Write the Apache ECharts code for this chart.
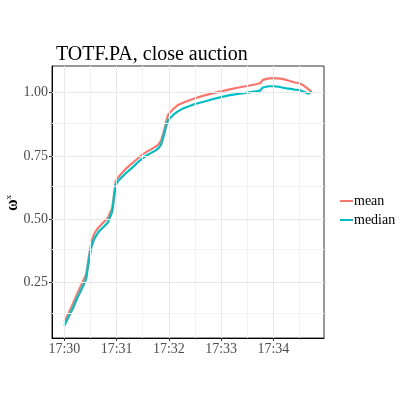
<!DOCTYPE html>
<html><head><meta charset="utf-8">
<script src="https://cdn.jsdelivr.net/npm/echarts@6/dist/echarts.min.js"></script>
<style>html,body{margin:0;padding:0;background:#fff}#c{width:415px;height:415px}</style>
</head><body><div id="c"></div>
<script>
// time in seconds after 17:30
const times = [0,5,10,15,20,25,28,31,34,37,40,45,50,55,57,59,62,66,70,75,80,85,90,95,100,105,108,111,113,115,117,119,121,125,130,135,140,150,160,170,180,190,200,210,220,225,228,230,235,240,245,250,255,260,265,270,275,280,282,284];
const meanVals = [0.095,0.13,0.168,0.208,0.245,0.282,0.35,0.41,0.44,0.458,0.47,0.488,0.505,0.545,0.6,0.65,0.666,0.682,0.697,0.713,0.727,0.742,0.756,0.767,0.777,0.787,0.795,0.81,0.832,0.857,0.887,0.91,0.92,0.935,0.95,0.958,0.965,0.978,0.988,0.997,1.005,1.013,1.02,1.026,1.033,1.037,1.05,1.054,1.056,1.057,1.056,1.054,1.05,1.045,1.04,1.037,1.028,1.015,1.008,1.003];
const medianVals = [0.08,0.115,0.15,0.19,0.225,0.263,0.33,0.39,0.42,0.438,0.453,0.47,0.487,0.53,0.58,0.636,0.652,0.666,0.68,0.695,0.71,0.727,0.741,0.753,0.763,0.772,0.78,0.794,0.815,0.84,0.868,0.89,0.897,0.912,0.925,0.935,0.942,0.955,0.964,0.974,0.982,0.99,0.995,1.0,1.005,1.008,1.02,1.025,1.025,1.025,1.024,1.02,1.017,1.015,1.012,1.01,1.003,0.996,0.998,1.004];
const xTicks = [0,60,120,180,240];
const xTickLabels = ['17:30','17:31','17:32','17:33','17:34'];
const xMinor = [30,90,150,210,270];
const yTicks = [0.25,0.5,0.75,1.0];
const yTickLabels = ['0.25','0.50','0.75','1.00'];
const yMinor = [0.125,0.375,0.625,0.875];

const font = 'Liberation Serif';
const chart = echarts.init(document.getElementById('c'), null, {renderer:'canvas'});
const gridLines = [];
xMinor.forEach(v=>gridLines.push({xAxis:v, lineStyle:{color:'#f2f2f2',width:1,type:'solid'}}));
yMinor.forEach(v=>gridLines.push({yAxis:v, lineStyle:{color:'#f2f2f2',width:1,type:'solid'}}));
xTicks.forEach(v=>gridLines.push({xAxis:v, lineStyle:{color:'#e8e8e8',width:1,type:'solid'}}));
yTicks.forEach(v=>gridLines.push({yAxis:v, lineStyle:{color:'#e8e8e8',width:1,type:'solid'}}));

chart.setOption({
  animation:false,
  backgroundColor:'#fff',
  title:{text:'TOTF.PA, close auction', left:51, top:40,
    textStyle:{fontFamily:font, fontSize:20, fontWeight:'normal', color:'#000'}},
  grid:{left:52, right:91, top:66, bottom:77, show:true, borderColor:'#333', borderWidth:1,
    containLabel:false, outerBoundsMode:'none'},
  legend:{orient:'vertical', left:335, top:189, itemWidth:13, itemHeight:2, itemGap:5,
    icon:'rect',
    textStyle:{fontFamily:font, fontSize:14, color:'#000', padding:[0,0,0,-4]},
    data:['mean','median']},
  graphic:[{type:'text', x:13, y:203, rotation:Math.PI/2,
    style:{text:'{a|ω}{b|x}', align:'center', verticalAlign:'middle',
      rich:{a:{fontFamily:font, fontSize:16, fontWeight:'bold', fill:'#000', color:'#000'},
        b:{fontFamily:font, fontSize:9, fill:'#000', color:'#000', verticalAlign:'top', padding:[0,0,9,0]}}}}],
  xAxis:{type:'value', min:-14.2, max:298.2,
    axisLine:{show:true, onZero:false, lineStyle:{color:'#000', width:1}},
    axisTick:{show:true, length:3, customValues:xTicks, lineStyle:{color:'#333'}},
    axisLabel:{customValues:xTicks, fontFamily:font, fontSize:14, color:'#4d4d4d', margin:4,
      formatter:v=>xTickLabels[xTicks.indexOf(v)] ?? ''},
    splitLine:{show:false}},
  yAxis:{type:'value', min:0.0317, max:1.105,
    axisLine:{show:true, onZero:false, lineStyle:{color:'#000', width:1}},
    axisTick:{show:true, length:3, customValues:yTicks, lineStyle:{color:'#333'}},
    axisLabel:{customValues:yTicks, fontFamily:font, fontSize:14, color:'#4d4d4d', margin:4,
      formatter:v=>{const i=yTicks.findIndex(t=>Math.abs(t-v)<1e-9);return i>=0?yTickLabels[i]:'';}},
    splitLine:{show:false}},
  series:[
    {type:'line', name:'_grid', data:[], silent:true, z:1,
      markLine:{silent:true, symbol:'none', label:{show:false}, animation:false, data:gridLines}},
    {type:'line', name:'mean', data:times.map((t,i)=>[t,meanVals[i]]), showSymbol:false, symbol:'none',
      lineStyle:{color:'#F8766D', width:2.2}, itemStyle:{color:'#F8766D'}, z:3},
    {type:'line', name:'median', data:times.map((t,i)=>[t,medianVals[i]]), showSymbol:false, symbol:'none',
      lineStyle:{color:'#00BFC4', width:2.2}, itemStyle:{color:'#00BFC4'}, z:4}
  ]
});
</script></body></html>
